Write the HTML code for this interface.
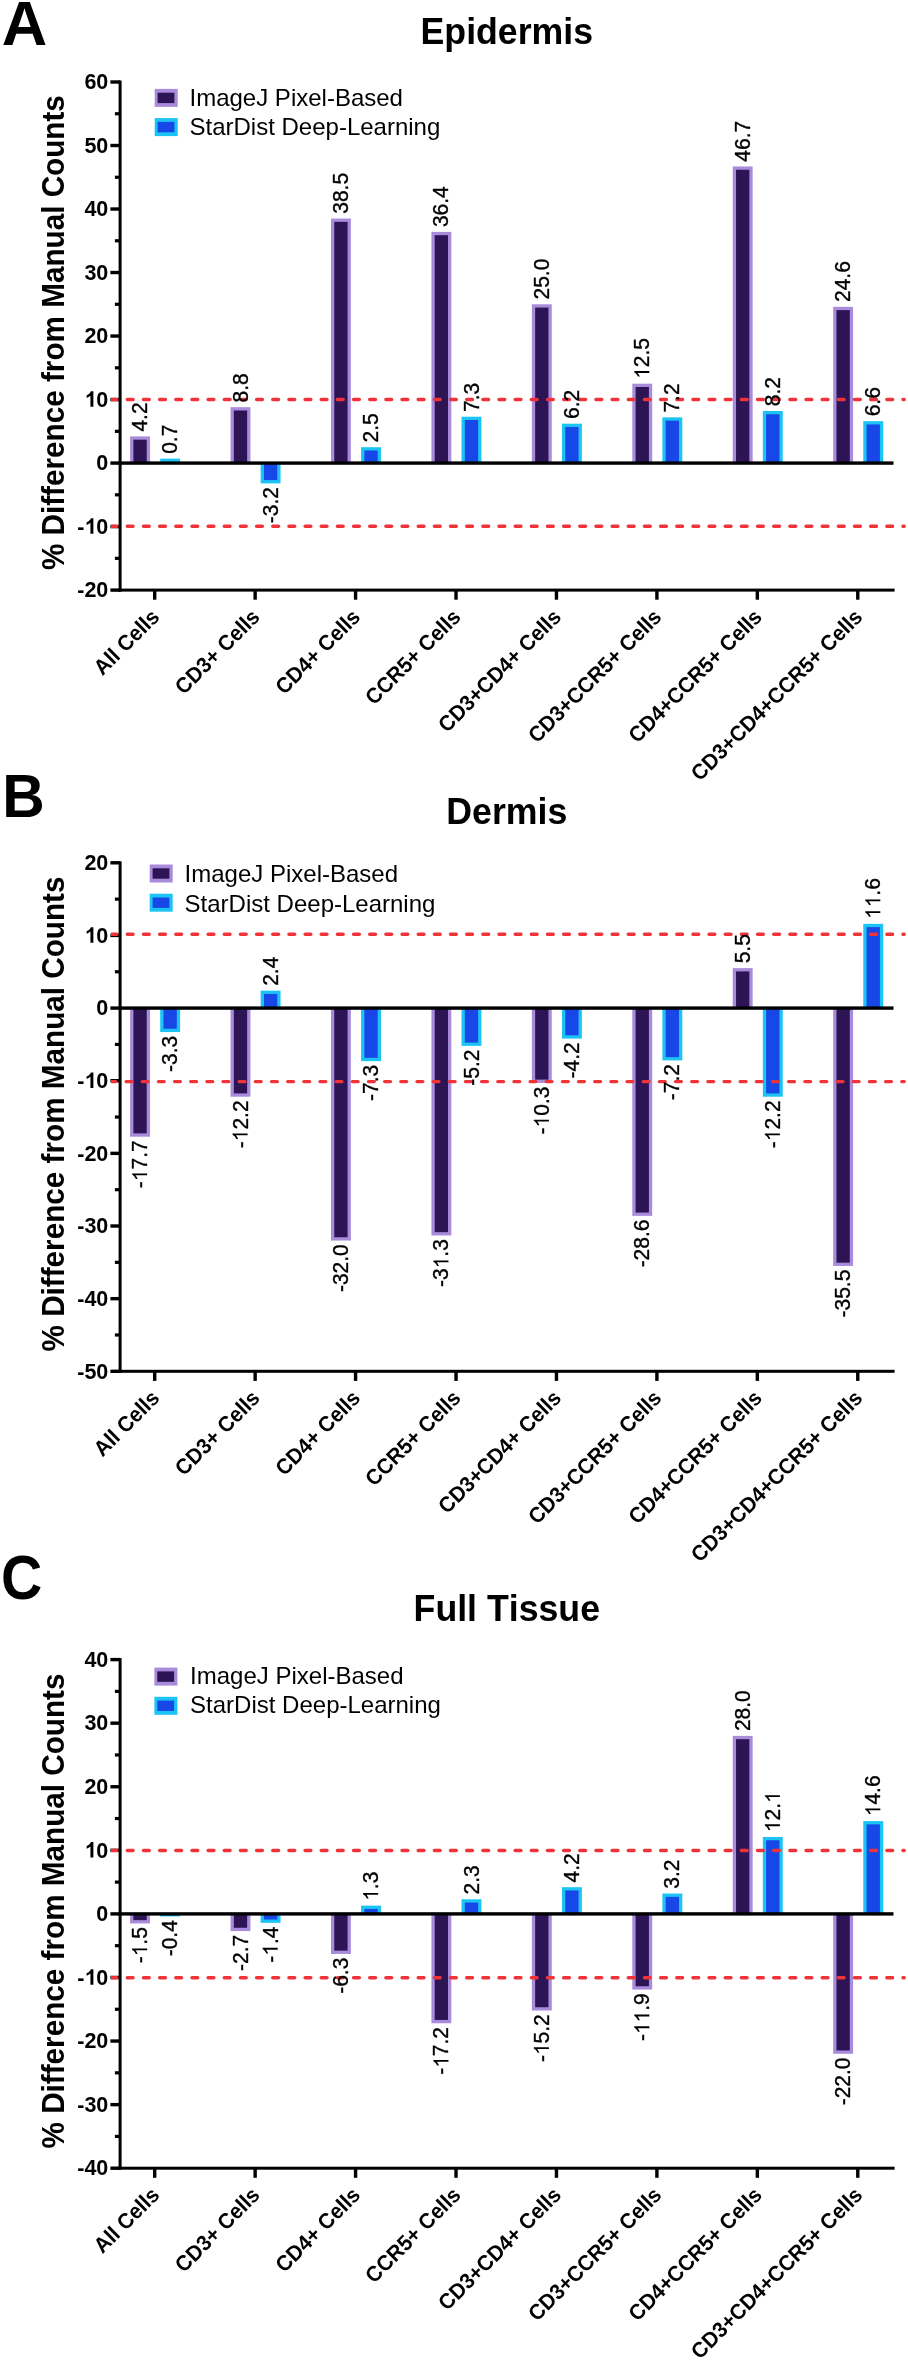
<!DOCTYPE html>
<html><head><meta charset="utf-8"><title>Figure</title>
<style>
html,body{margin:0;padding:0;background:#fff;overflow:hidden;}
svg{display:block;font-family:"Liberation Sans", sans-serif;font-kerning:none;filter:blur(0.4px);}
.v{stroke:#000;stroke-width:0.35px;}
.h{fill:none;stroke:none;}
</style></head>
<body>
<svg width="908" height="2362" viewBox="0 0 908 2362" fill="#000">
<defs><clipPath id="dclip"><rect x="111" y="0" width="797" height="2362"/></clipPath></defs>
<rect width="908" height="2362" fill="#fff"/>
<text x="0" y="0" font-size="62.0" font-weight="bold" transform="translate(1.8 44.55) scale(1.015 1.01)">A</text>
<text transform="translate(506.8 44.3) scale(1 1.04)" font-size="35.7" font-weight="bold" text-anchor="middle">Epidermis</text>
<text transform="translate(64 332.6) rotate(-90) scale(1 1.04)" font-size="29.7" font-weight="bold" text-anchor="middle">% Difference from Manual Counts</text>
<rect x="130.1" y="436.4" width="19.9" height="26.68" fill="#a98bdb"/>
<rect x="133.4" y="439.7" width="13.3" height="23.38" fill="#2c1455"/>
<rect x="160.2" y="458.63" width="19.9" height="4.45" fill="#1cc3f5"/>
<rect x="163.5" y="461.93" width="13.3" height="1.15" fill="#1747e6"/>
<rect x="230.54" y="407.18" width="19.9" height="55.89" fill="#a98bdb"/>
<rect x="233.84" y="410.48" width="13.3" height="52.59" fill="#2c1455"/>
<rect x="260.64" y="463.08" width="19.9" height="20.32" fill="#1cc3f5"/>
<rect x="263.94" y="463.08" width="13.3" height="17.02" fill="#1747e6"/>
<rect x="330.98" y="218.55" width="19.9" height="244.52" fill="#a98bdb"/>
<rect x="334.28" y="221.85" width="13.3" height="241.22" fill="#2c1455"/>
<rect x="361.08" y="447.2" width="19.9" height="15.88" fill="#1cc3f5"/>
<rect x="364.38" y="450.5" width="13.3" height="12.58" fill="#1747e6"/>
<rect x="431.42" y="231.89" width="19.9" height="231.19" fill="#a98bdb"/>
<rect x="434.72" y="235.19" width="13.3" height="227.89" fill="#2c1455"/>
<rect x="461.52" y="416.71" width="19.9" height="46.36" fill="#1cc3f5"/>
<rect x="464.82" y="420.01" width="13.3" height="43.06" fill="#1747e6"/>
<rect x="531.86" y="304.29" width="19.9" height="158.78" fill="#a98bdb"/>
<rect x="535.16" y="307.59" width="13.3" height="155.48" fill="#2c1455"/>
<rect x="561.96" y="423.7" width="19.9" height="39.38" fill="#1cc3f5"/>
<rect x="565.26" y="427" width="13.3" height="36.08" fill="#1747e6"/>
<rect x="632.3" y="383.68" width="19.9" height="79.39" fill="#a98bdb"/>
<rect x="635.6" y="386.98" width="13.3" height="76.09" fill="#2c1455"/>
<rect x="662.4" y="417.35" width="19.9" height="45.73" fill="#1cc3f5"/>
<rect x="665.7" y="420.65" width="13.3" height="42.43" fill="#1747e6"/>
<rect x="732.74" y="166.47" width="19.9" height="296.6" fill="#a98bdb"/>
<rect x="736.04" y="169.77" width="13.3" height="293.3" fill="#2c1455"/>
<rect x="762.84" y="410.99" width="19.9" height="52.08" fill="#1cc3f5"/>
<rect x="766.14" y="414.29" width="13.3" height="48.78" fill="#1747e6"/>
<rect x="833.18" y="306.83" width="19.9" height="156.24" fill="#a98bdb"/>
<rect x="836.48" y="310.13" width="13.3" height="152.94" fill="#2c1455"/>
<rect x="863.28" y="421.16" width="19.9" height="41.92" fill="#1cc3f5"/>
<rect x="866.58" y="424.46" width="13.3" height="38.62" fill="#1747e6"/>
<rect x="110.4" y="80.3" width="9.7" height="3.4" fill="#000"/>
<text transform="translate(108.3 89.2) scale(1 1.04)" font-size="21.5" font-weight="bold" text-anchor="end">60</text>
<rect x="114.9" y="112.16" width="5.2" height="3.2" fill="#000"/>
<rect x="110.4" y="143.81" width="9.7" height="3.4" fill="#000"/>
<text transform="translate(108.3 152.71) scale(1 1.04)" font-size="21.5" font-weight="bold" text-anchor="end">50</text>
<rect x="114.9" y="175.67" width="5.2" height="3.2" fill="#000"/>
<rect x="110.4" y="207.33" width="9.7" height="3.4" fill="#000"/>
<text transform="translate(108.3 216.22) scale(1 1.04)" font-size="21.5" font-weight="bold" text-anchor="end">40</text>
<rect x="114.9" y="239.18" width="5.2" height="3.2" fill="#000"/>
<rect x="110.4" y="270.84" width="9.7" height="3.4" fill="#000"/>
<text transform="translate(108.3 279.74) scale(1 1.04)" font-size="21.5" font-weight="bold" text-anchor="end">30</text>
<rect x="114.9" y="302.69" width="5.2" height="3.2" fill="#000"/>
<rect x="110.4" y="334.35" width="9.7" height="3.4" fill="#000"/>
<text transform="translate(108.3 343.25) scale(1 1.04)" font-size="21.5" font-weight="bold" text-anchor="end">20</text>
<rect x="114.9" y="366.21" width="5.2" height="3.2" fill="#000"/>
<rect x="110.4" y="397.86" width="9.7" height="3.4" fill="#000"/>
<g transform="translate(108.3 406.76)"><text transform="scale(1 1.04)" font-size="21.5" font-weight="bold" text-anchor="end"><tspan class="h">1</tspan>0</text><path d="M856 0L575 0L575 1059Q421 915 212 846L212 1101Q322 1137 451 1237Q580 1337 628 1472L856 1472Z" transform="translate(-23.91 0) scale(0.01050 -0.01050)"/></g>
<rect x="114.9" y="429.72" width="5.2" height="3.2" fill="#000"/>
<rect x="110.4" y="461.38" width="9.7" height="3.4" fill="#000"/>
<text transform="translate(108.3 470.28) scale(1 1.04)" font-size="21.5" font-weight="bold" text-anchor="end">0</text>
<rect x="114.9" y="493.23" width="5.2" height="3.2" fill="#000"/>
<rect x="110.4" y="524.89" width="9.7" height="3.4" fill="#000"/>
<g transform="translate(108.3 533.79)"><text transform="scale(1 1.04)" font-size="21.5" font-weight="bold" text-anchor="end">-<tspan class="h">1</tspan>0</text><path d="M856 0L575 0L575 1059Q421 915 212 846L212 1101Q322 1137 451 1237Q580 1337 628 1472L856 1472Z" transform="translate(-23.91 0) scale(0.01050 -0.01050)"/></g>
<rect x="114.9" y="556.74" width="5.2" height="3.2" fill="#000"/>
<rect x="110.4" y="588.4" width="9.7" height="3.4" fill="#000"/>
<text transform="translate(108.3 597.3) scale(1 1.04)" font-size="21.5" font-weight="bold" text-anchor="end">-20</text>
<line x1="111.14" y1="399.5" x2="904.2" y2="399.5" stroke="#f03338" stroke-width="3.4" stroke-dasharray="5.8 10.36" stroke-linecap="round" clip-path="url(#dclip)"/>
<line x1="111.14" y1="526.3" x2="904.2" y2="526.3" stroke="#f03338" stroke-width="3.4" stroke-dasharray="5.8 10.36" stroke-linecap="round" clip-path="url(#dclip)"/>
<rect x="118.6" y="461.38" width="774.9" height="3.4" fill="#000"/>
<rect x="118.6" y="80.5" width="3" height="511.1" fill="#000"/>
<rect x="118.6" y="588.6" width="776" height="3" fill="#000"/>
<rect x="153" y="590.1" width="3.4" height="9.6" fill="#000"/>
<text transform="translate(160.6 618.2) rotate(-45) scale(1 1.04)" font-size="20.8" font-weight="bold" text-anchor="end">All Cells</text>
<rect x="253.44" y="590.1" width="3.4" height="9.6" fill="#000"/>
<text transform="translate(261.04 618.2) rotate(-45) scale(1 1.04)" font-size="20.8" font-weight="bold" text-anchor="end">CD3+ Cells</text>
<rect x="353.88" y="590.1" width="3.4" height="9.6" fill="#000"/>
<text transform="translate(361.48 618.2) rotate(-45) scale(1 1.04)" font-size="20.8" font-weight="bold" text-anchor="end">CD4+ Cells</text>
<rect x="454.32" y="590.1" width="3.4" height="9.6" fill="#000"/>
<text transform="translate(461.92 618.2) rotate(-45) scale(1 1.04)" font-size="20.8" font-weight="bold" text-anchor="end">CCR5+ Cells</text>
<rect x="554.76" y="590.1" width="3.4" height="9.6" fill="#000"/>
<text transform="translate(562.36 618.2) rotate(-45) scale(1 1.04)" font-size="20.8" font-weight="bold" text-anchor="end">CD3+CD4+ Cells</text>
<rect x="655.2" y="590.1" width="3.4" height="9.6" fill="#000"/>
<text transform="translate(662.8 618.2) rotate(-45) scale(1 1.04)" font-size="20.8" font-weight="bold" text-anchor="end">CD3+CCR5+ Cells</text>
<rect x="755.64" y="590.1" width="3.4" height="9.6" fill="#000"/>
<text transform="translate(763.24 618.2) rotate(-45) scale(1 1.04)" font-size="20.8" font-weight="bold" text-anchor="end">CD4+CCR5+ Cells</text>
<rect x="856.08" y="590.1" width="3.4" height="9.6" fill="#000"/>
<text transform="translate(863.68 618.2) rotate(-45) scale(1 1.04)" font-size="20.8" font-weight="bold" text-anchor="end">CD3+CD4+CCR5+ Cells</text>
<text transform="translate(147.15 431.6) rotate(-90) scale(1 1.04)" font-size="21.0" class="v">4.2</text>
<text transform="translate(177.25 453.83) rotate(-90) scale(1 1.04)" font-size="21.0" class="v">0.7</text>
<text transform="translate(247.59 402.38) rotate(-90) scale(1 1.04)" font-size="21.0" class="v">8.8</text>
<text transform="translate(277.69 487.1) rotate(-90) scale(1 1.04)" font-size="21.0" class="v" text-anchor="end">-3.2</text>
<text transform="translate(348.03 213.75) rotate(-90) scale(1 1.04)" font-size="21.0" class="v">38.5</text>
<text transform="translate(378.13 442.4) rotate(-90) scale(1 1.04)" font-size="21.0" class="v">2.5</text>
<text transform="translate(448.47 227.09) rotate(-90) scale(1 1.04)" font-size="21.0" class="v">36.4</text>
<text transform="translate(478.57 411.91) rotate(-90) scale(1 1.04)" font-size="21.0" class="v">7.3</text>
<text transform="translate(548.91 299.49) rotate(-90) scale(1 1.04)" font-size="21.0" class="v">25.0</text>
<text transform="translate(579.01 418.9) rotate(-90) scale(1 1.04)" font-size="21.0" class="v">6.2</text>
<g transform="translate(649.35 378.88) rotate(-90)"><text transform="scale(1 1.04)" font-size="21.0" class="v"><tspan class="h">1</tspan>2.5</text><path d="M763 0L583 0L583 1147Q518 1085 412 1023Q306 961 222 930L222 1104Q373 1175 486 1276Q599 1377 646 1472L763 1472Z" transform="translate(0.00 0) scale(0.01025 -0.01025)" class="v"/></g>
<text transform="translate(679.45 412.55) rotate(-90) scale(1 1.04)" font-size="21.0" class="v">7.2</text>
<text transform="translate(749.79 161.67) rotate(-90) scale(1 1.04)" font-size="21.0" class="v">46.7</text>
<text transform="translate(779.89 406.19) rotate(-90) scale(1 1.04)" font-size="21.0" class="v">8.2</text>
<text transform="translate(850.23 302.03) rotate(-90) scale(1 1.04)" font-size="21.0" class="v">24.6</text>
<text transform="translate(880.33 416.36) rotate(-90) scale(1 1.04)" font-size="21.0" class="v">6.6</text>
<rect x="154.7" y="88.9" width="23.0" height="18.0" fill="#a98bdb"/>
<rect x="157.6" y="92.7" width="16.8" height="10.4" fill="#2c1455"/>
<text transform="translate(189.5 106.2)" font-size="24.0">ImageJ Pixel-Based</text>
<rect x="154.7" y="118.1" width="23.0" height="18.0" fill="#1cc3f5"/>
<rect x="157.6" y="121.9" width="16.8" height="10.4" fill="#1747e6"/>
<text transform="translate(189.5 135.4)" font-size="24.0">StarDist Deep-Learning</text>
<text x="0" y="0" font-size="62.0" font-weight="bold" transform="translate(2.3 816.6) scale(0.95 1.0)">B</text>
<text transform="translate(506.8 824) scale(1 1.04)" font-size="35.7" font-weight="bold" text-anchor="middle">Dermis</text>
<text transform="translate(64 1114) rotate(-90) scale(1 1.04)" font-size="29.7" font-weight="bold" text-anchor="middle">% Difference from Manual Counts</text>
<rect x="130.1" y="1008.09" width="19.9" height="128.58" fill="#a98bdb"/>
<rect x="133.4" y="1008.09" width="13.3" height="125.28" fill="#2c1455"/>
<rect x="160.2" y="1008.09" width="19.9" height="23.97" fill="#1cc3f5"/>
<rect x="163.5" y="1008.09" width="13.3" height="20.67" fill="#1747e6"/>
<rect x="230.54" y="1008.09" width="19.9" height="88.62" fill="#a98bdb"/>
<rect x="233.84" y="1008.09" width="13.3" height="85.32" fill="#2c1455"/>
<rect x="260.64" y="990.65" width="19.9" height="17.43" fill="#1cc3f5"/>
<rect x="263.94" y="993.95" width="13.3" height="14.13" fill="#1747e6"/>
<rect x="330.98" y="1008.09" width="19.9" height="232.46" fill="#a98bdb"/>
<rect x="334.28" y="1008.09" width="13.3" height="229.16" fill="#2c1455"/>
<rect x="361.08" y="1008.09" width="19.9" height="53.03" fill="#1cc3f5"/>
<rect x="364.38" y="1008.09" width="13.3" height="49.73" fill="#1747e6"/>
<rect x="431.42" y="1008.09" width="19.9" height="227.37" fill="#a98bdb"/>
<rect x="434.72" y="1008.09" width="13.3" height="224.07" fill="#2c1455"/>
<rect x="461.52" y="1008.09" width="19.9" height="37.77" fill="#1cc3f5"/>
<rect x="464.82" y="1008.09" width="13.3" height="34.47" fill="#1747e6"/>
<rect x="531.86" y="1008.09" width="19.9" height="74.82" fill="#a98bdb"/>
<rect x="535.16" y="1008.09" width="13.3" height="71.52" fill="#2c1455"/>
<rect x="561.96" y="1008.09" width="19.9" height="30.51" fill="#1cc3f5"/>
<rect x="565.26" y="1008.09" width="13.3" height="27.21" fill="#1747e6"/>
<rect x="632.3" y="1008.09" width="19.9" height="207.76" fill="#a98bdb"/>
<rect x="635.6" y="1008.09" width="13.3" height="204.46" fill="#2c1455"/>
<rect x="662.4" y="1008.09" width="19.9" height="52.3" fill="#1cc3f5"/>
<rect x="665.7" y="1008.09" width="13.3" height="49" fill="#1747e6"/>
<rect x="732.74" y="968.13" width="19.9" height="39.95" fill="#a98bdb"/>
<rect x="736.04" y="971.43" width="13.3" height="36.65" fill="#2c1455"/>
<rect x="762.84" y="1008.09" width="19.9" height="88.62" fill="#1cc3f5"/>
<rect x="766.14" y="1008.09" width="13.3" height="85.32" fill="#1747e6"/>
<rect x="833.18" y="1008.09" width="19.9" height="257.88" fill="#a98bdb"/>
<rect x="836.48" y="1008.09" width="13.3" height="254.58" fill="#2c1455"/>
<rect x="863.28" y="923.82" width="19.9" height="84.27" fill="#1cc3f5"/>
<rect x="866.58" y="927.12" width="13.3" height="80.97" fill="#1747e6"/>
<rect x="110.4" y="861.1" width="9.7" height="3.4" fill="#000"/>
<text transform="translate(108.3 870) scale(1 1.04)" font-size="21.5" font-weight="bold" text-anchor="end">20</text>
<rect x="114.9" y="897.52" width="5.2" height="3.2" fill="#000"/>
<rect x="110.4" y="933.74" width="9.7" height="3.4" fill="#000"/>
<g transform="translate(108.3 942.64)"><text transform="scale(1 1.04)" font-size="21.5" font-weight="bold" text-anchor="end"><tspan class="h">1</tspan>0</text><path d="M856 0L575 0L575 1059Q421 915 212 846L212 1101Q322 1137 451 1237Q580 1337 628 1472L856 1472Z" transform="translate(-23.91 0) scale(0.01050 -0.01050)"/></g>
<rect x="114.9" y="970.16" width="5.2" height="3.2" fill="#000"/>
<rect x="110.4" y="1006.39" width="9.7" height="3.4" fill="#000"/>
<text transform="translate(108.3 1015.29) scale(1 1.04)" font-size="21.5" font-weight="bold" text-anchor="end">0</text>
<rect x="114.9" y="1042.81" width="5.2" height="3.2" fill="#000"/>
<rect x="110.4" y="1079.03" width="9.7" height="3.4" fill="#000"/>
<g transform="translate(108.3 1087.93)"><text transform="scale(1 1.04)" font-size="21.5" font-weight="bold" text-anchor="end">-<tspan class="h">1</tspan>0</text><path d="M856 0L575 0L575 1059Q421 915 212 846L212 1101Q322 1137 451 1237Q580 1337 628 1472L856 1472Z" transform="translate(-23.91 0) scale(0.01050 -0.01050)"/></g>
<rect x="114.9" y="1115.45" width="5.2" height="3.2" fill="#000"/>
<rect x="110.4" y="1151.67" width="9.7" height="3.4" fill="#000"/>
<text transform="translate(108.3 1160.57) scale(1 1.04)" font-size="21.5" font-weight="bold" text-anchor="end">-20</text>
<rect x="114.9" y="1188.09" width="5.2" height="3.2" fill="#000"/>
<rect x="110.4" y="1224.31" width="9.7" height="3.4" fill="#000"/>
<text transform="translate(108.3 1233.21) scale(1 1.04)" font-size="21.5" font-weight="bold" text-anchor="end">-30</text>
<rect x="114.9" y="1260.74" width="5.2" height="3.2" fill="#000"/>
<rect x="110.4" y="1296.96" width="9.7" height="3.4" fill="#000"/>
<text transform="translate(108.3 1305.86) scale(1 1.04)" font-size="21.5" font-weight="bold" text-anchor="end">-40</text>
<rect x="114.9" y="1333.38" width="5.2" height="3.2" fill="#000"/>
<rect x="110.4" y="1369.6" width="9.7" height="3.4" fill="#000"/>
<text transform="translate(108.3 1378.5) scale(1 1.04)" font-size="21.5" font-weight="bold" text-anchor="end">-50</text>
<line x1="111.14" y1="934.3" x2="904.2" y2="934.3" stroke="#f03338" stroke-width="3.4" stroke-dasharray="5.8 10.36" stroke-linecap="round" clip-path="url(#dclip)"/>
<line x1="109.94" y1="1081.6" x2="904.2" y2="1081.6" stroke="#f03338" stroke-width="3.4" stroke-dasharray="5.8 10.36" stroke-linecap="round" clip-path="url(#dclip)"/>
<rect x="118.6" y="1006.39" width="774.9" height="3.4" fill="#000"/>
<rect x="118.6" y="861.3" width="3" height="511.5" fill="#000"/>
<rect x="118.6" y="1369.8" width="776" height="3" fill="#000"/>
<rect x="153" y="1371.3" width="3.4" height="9.6" fill="#000"/>
<text transform="translate(160.6 1399.4) rotate(-45) scale(1 1.04)" font-size="20.8" font-weight="bold" text-anchor="end">All Cells</text>
<rect x="253.44" y="1371.3" width="3.4" height="9.6" fill="#000"/>
<text transform="translate(261.04 1399.4) rotate(-45) scale(1 1.04)" font-size="20.8" font-weight="bold" text-anchor="end">CD3+ Cells</text>
<rect x="353.88" y="1371.3" width="3.4" height="9.6" fill="#000"/>
<text transform="translate(361.48 1399.4) rotate(-45) scale(1 1.04)" font-size="20.8" font-weight="bold" text-anchor="end">CD4+ Cells</text>
<rect x="454.32" y="1371.3" width="3.4" height="9.6" fill="#000"/>
<text transform="translate(461.92 1399.4) rotate(-45) scale(1 1.04)" font-size="20.8" font-weight="bold" text-anchor="end">CCR5+ Cells</text>
<rect x="554.76" y="1371.3" width="3.4" height="9.6" fill="#000"/>
<text transform="translate(562.36 1399.4) rotate(-45) scale(1 1.04)" font-size="20.8" font-weight="bold" text-anchor="end">CD3+CD4+ Cells</text>
<rect x="655.2" y="1371.3" width="3.4" height="9.6" fill="#000"/>
<text transform="translate(662.8 1399.4) rotate(-45) scale(1 1.04)" font-size="20.8" font-weight="bold" text-anchor="end">CD3+CCR5+ Cells</text>
<rect x="755.64" y="1371.3" width="3.4" height="9.6" fill="#000"/>
<text transform="translate(763.24 1399.4) rotate(-45) scale(1 1.04)" font-size="20.8" font-weight="bold" text-anchor="end">CD4+CCR5+ Cells</text>
<rect x="856.08" y="1371.3" width="3.4" height="9.6" fill="#000"/>
<text transform="translate(863.68 1399.4) rotate(-45) scale(1 1.04)" font-size="20.8" font-weight="bold" text-anchor="end">CD3+CD4+CCR5+ Cells</text>
<g transform="translate(147.15 1140.36) rotate(-90)"><text transform="scale(1 1.04)" font-size="21.0" class="v" text-anchor="end">-<tspan class="h">1</tspan>7.7</text><path d="M763 0L583 0L583 1147Q518 1085 412 1023Q306 961 222 930L222 1104Q373 1175 486 1276Q599 1377 646 1472L763 1472Z" transform="translate(-40.87 0) scale(0.01025 -0.01025)" class="v"/></g>
<text transform="translate(177.25 1035.76) rotate(-90) scale(1 1.04)" font-size="21.0" class="v" text-anchor="end">-3.3</text>
<g transform="translate(247.59 1100.41) rotate(-90)"><text transform="scale(1 1.04)" font-size="21.0" class="v" text-anchor="end">-<tspan class="h">1</tspan>2.2</text><path d="M763 0L583 0L583 1147Q518 1085 412 1023Q306 961 222 930L222 1104Q373 1175 486 1276Q599 1377 646 1472L763 1472Z" transform="translate(-40.87 0) scale(0.01025 -0.01025)" class="v"/></g>
<text transform="translate(277.69 985.85) rotate(-90) scale(1 1.04)" font-size="21.0" class="v">2.4</text>
<text transform="translate(348.03 1244.24) rotate(-90) scale(1 1.04)" font-size="21.0" class="v" text-anchor="end">-32.0</text>
<text transform="translate(378.13 1064.82) rotate(-90) scale(1 1.04)" font-size="21.0" class="v" text-anchor="end">-7.3</text>
<g transform="translate(448.47 1239.16) rotate(-90)"><text transform="scale(1 1.04)" font-size="21.0" class="v" text-anchor="end">-3<tspan class="h">1</tspan>.3</text><path d="M763 0L583 0L583 1147Q518 1085 412 1023Q306 961 222 930L222 1104Q373 1175 486 1276Q599 1377 646 1472L763 1472Z" transform="translate(-29.19 0) scale(0.01025 -0.01025)" class="v"/></g>
<text transform="translate(478.57 1049.56) rotate(-90) scale(1 1.04)" font-size="21.0" class="v" text-anchor="end">-5.2</text>
<g transform="translate(548.91 1086.61) rotate(-90)"><text transform="scale(1 1.04)" font-size="21.0" class="v" text-anchor="end">-<tspan class="h">1</tspan>0.3</text><path d="M763 0L583 0L583 1147Q518 1085 412 1023Q306 961 222 930L222 1104Q373 1175 486 1276Q599 1377 646 1472L763 1472Z" transform="translate(-40.87 0) scale(0.01025 -0.01025)" class="v"/></g>
<text transform="translate(579.01 1042.3) rotate(-90) scale(1 1.04)" font-size="21.0" class="v" text-anchor="end">-4.2</text>
<text transform="translate(649.35 1219.54) rotate(-90) scale(1 1.04)" font-size="21.0" class="v" text-anchor="end">-28.6</text>
<text transform="translate(679.45 1064.09) rotate(-90) scale(1 1.04)" font-size="21.0" class="v" text-anchor="end">-7.2</text>
<text transform="translate(749.79 963.33) rotate(-90) scale(1 1.04)" font-size="21.0" class="v">5.5</text>
<g transform="translate(779.89 1100.41) rotate(-90)"><text transform="scale(1 1.04)" font-size="21.0" class="v" text-anchor="end">-<tspan class="h">1</tspan>2.2</text><path d="M763 0L583 0L583 1147Q518 1085 412 1023Q306 961 222 930L222 1104Q373 1175 486 1276Q599 1377 646 1472L763 1472Z" transform="translate(-40.87 0) scale(0.01025 -0.01025)" class="v"/></g>
<text transform="translate(850.23 1269.67) rotate(-90) scale(1 1.04)" font-size="21.0" class="v" text-anchor="end">-35.5</text>
<g transform="translate(880.33 919.02) rotate(-90)"><text transform="scale(1 1.04)" font-size="21.0" class="v"><tspan class="h">1</tspan><tspan class="h">1</tspan>.6</text><path d="M763 0L583 0L583 1147Q518 1085 412 1023Q306 961 222 930L222 1104Q373 1175 486 1276Q599 1377 646 1472L763 1472Z" transform="translate(0.00 0) scale(0.01025 -0.01025)" class="v"/><path d="M763 0L583 0L583 1147Q518 1085 412 1023Q306 961 222 930L222 1104Q373 1175 486 1276Q599 1377 646 1472L763 1472Z" transform="translate(11.68 0) scale(0.01025 -0.01025)" class="v"/></g>
<rect x="149.7" y="864.5" width="23.0" height="18.0" fill="#a98bdb"/>
<rect x="152.6" y="868.3" width="16.8" height="10.4" fill="#2c1455"/>
<text transform="translate(184.6 882.3)" font-size="24.0">ImageJ Pixel-Based</text>
<rect x="149.7" y="893.7" width="23.0" height="18.0" fill="#1cc3f5"/>
<rect x="152.6" y="897.5" width="16.8" height="10.4" fill="#1747e6"/>
<text transform="translate(184.6 911.5)" font-size="24.0">StarDist Deep-Learning</text>
<text x="0" y="0" font-size="62.0" font-weight="bold" transform="translate(1.0 1598.9) scale(0.92 1.015)">C</text>
<text transform="translate(506.8 1621) scale(1 1.04)" font-size="35.7" font-weight="bold" text-anchor="middle">Full Tissue</text>
<text transform="translate(64 1911) rotate(-90) scale(1 1.04)" font-size="29.7" font-weight="bold" text-anchor="middle">% Difference from Manual Counts</text>
<rect x="130.1" y="1913.9" width="19.9" height="9.54" fill="#a98bdb"/>
<rect x="133.4" y="1913.9" width="13.3" height="6.24" fill="#2c1455"/>
<rect x="160.2" y="1913.9" width="19.9" height="2.54" fill="#1cc3f5"/>
<rect x="230.54" y="1913.9" width="19.9" height="17.17" fill="#a98bdb"/>
<rect x="233.84" y="1913.9" width="13.3" height="13.87" fill="#2c1455"/>
<rect x="260.64" y="1913.9" width="19.9" height="8.9" fill="#1cc3f5"/>
<rect x="263.94" y="1913.9" width="13.3" height="5.6" fill="#1747e6"/>
<rect x="330.98" y="1913.9" width="19.9" height="40.05" fill="#a98bdb"/>
<rect x="334.28" y="1913.9" width="13.3" height="36.75" fill="#2c1455"/>
<rect x="361.08" y="1905.64" width="19.9" height="8.26" fill="#1cc3f5"/>
<rect x="364.38" y="1908.94" width="13.3" height="4.96" fill="#1747e6"/>
<rect x="431.42" y="1913.9" width="19.9" height="109.35" fill="#a98bdb"/>
<rect x="434.72" y="1913.9" width="13.3" height="106.05" fill="#2c1455"/>
<rect x="461.52" y="1899.28" width="19.9" height="14.62" fill="#1cc3f5"/>
<rect x="464.82" y="1902.58" width="13.3" height="11.32" fill="#1747e6"/>
<rect x="531.86" y="1913.9" width="19.9" height="96.63" fill="#a98bdb"/>
<rect x="535.16" y="1913.9" width="13.3" height="93.33" fill="#2c1455"/>
<rect x="561.96" y="1887.2" width="19.9" height="26.7" fill="#1cc3f5"/>
<rect x="565.26" y="1890.5" width="13.3" height="23.4" fill="#1747e6"/>
<rect x="632.3" y="1913.9" width="19.9" height="75.65" fill="#a98bdb"/>
<rect x="635.6" y="1913.9" width="13.3" height="72.35" fill="#2c1455"/>
<rect x="662.4" y="1893.56" width="19.9" height="20.34" fill="#1cc3f5"/>
<rect x="665.7" y="1896.86" width="13.3" height="17.04" fill="#1747e6"/>
<rect x="732.74" y="1735.89" width="19.9" height="178.01" fill="#a98bdb"/>
<rect x="736.04" y="1739.19" width="13.3" height="174.71" fill="#2c1455"/>
<rect x="762.84" y="1836.97" width="19.9" height="76.93" fill="#1cc3f5"/>
<rect x="766.14" y="1840.27" width="13.3" height="73.63" fill="#1747e6"/>
<rect x="833.18" y="1913.9" width="19.9" height="139.87" fill="#a98bdb"/>
<rect x="836.48" y="1913.9" width="13.3" height="136.56" fill="#2c1455"/>
<rect x="863.28" y="1821.08" width="19.9" height="92.82" fill="#1cc3f5"/>
<rect x="866.58" y="1824.38" width="13.3" height="89.52" fill="#1747e6"/>
<rect x="110.4" y="1657.9" width="9.7" height="3.4" fill="#000"/>
<text transform="translate(108.3 1666.8) scale(1 1.04)" font-size="21.5" font-weight="bold" text-anchor="end">40</text>
<rect x="114.9" y="1689.79" width="5.2" height="3.2" fill="#000"/>
<rect x="110.4" y="1721.47" width="9.7" height="3.4" fill="#000"/>
<text transform="translate(108.3 1730.38) scale(1 1.04)" font-size="21.5" font-weight="bold" text-anchor="end">30</text>
<rect x="114.9" y="1753.36" width="5.2" height="3.2" fill="#000"/>
<rect x="110.4" y="1785.05" width="9.7" height="3.4" fill="#000"/>
<text transform="translate(108.3 1793.95) scale(1 1.04)" font-size="21.5" font-weight="bold" text-anchor="end">20</text>
<rect x="114.9" y="1816.94" width="5.2" height="3.2" fill="#000"/>
<rect x="110.4" y="1848.62" width="9.7" height="3.4" fill="#000"/>
<g transform="translate(108.3 1857.52)"><text transform="scale(1 1.04)" font-size="21.5" font-weight="bold" text-anchor="end"><tspan class="h">1</tspan>0</text><path d="M856 0L575 0L575 1059Q421 915 212 846L212 1101Q322 1137 451 1237Q580 1337 628 1472L856 1472Z" transform="translate(-23.91 0) scale(0.01050 -0.01050)"/></g>
<rect x="114.9" y="1880.51" width="5.2" height="3.2" fill="#000"/>
<rect x="110.4" y="1912.2" width="9.7" height="3.4" fill="#000"/>
<text transform="translate(108.3 1921.1) scale(1 1.04)" font-size="21.5" font-weight="bold" text-anchor="end">0</text>
<rect x="114.9" y="1944.09" width="5.2" height="3.2" fill="#000"/>
<rect x="110.4" y="1975.77" width="9.7" height="3.4" fill="#000"/>
<g transform="translate(108.3 1984.67)"><text transform="scale(1 1.04)" font-size="21.5" font-weight="bold" text-anchor="end">-<tspan class="h">1</tspan>0</text><path d="M856 0L575 0L575 1059Q421 915 212 846L212 1101Q322 1137 451 1237Q580 1337 628 1472L856 1472Z" transform="translate(-23.91 0) scale(0.01050 -0.01050)"/></g>
<rect x="114.9" y="2007.66" width="5.2" height="3.2" fill="#000"/>
<rect x="110.4" y="2039.35" width="9.7" height="3.4" fill="#000"/>
<text transform="translate(108.3 2048.25) scale(1 1.04)" font-size="21.5" font-weight="bold" text-anchor="end">-20</text>
<rect x="114.9" y="2071.24" width="5.2" height="3.2" fill="#000"/>
<rect x="110.4" y="2102.93" width="9.7" height="3.4" fill="#000"/>
<text transform="translate(108.3 2111.82) scale(1 1.04)" font-size="21.5" font-weight="bold" text-anchor="end">-30</text>
<rect x="114.9" y="2134.81" width="5.2" height="3.2" fill="#000"/>
<rect x="110.4" y="2166.5" width="9.7" height="3.4" fill="#000"/>
<text transform="translate(108.3 2175.4) scale(1 1.04)" font-size="21.5" font-weight="bold" text-anchor="end">-40</text>
<line x1="111.14" y1="1850.5" x2="904.2" y2="1850.5" stroke="#f03338" stroke-width="3.4" stroke-dasharray="5.8 10.36" stroke-linecap="round" clip-path="url(#dclip)"/>
<line x1="111.14" y1="1977.7" x2="904.2" y2="1977.7" stroke="#f03338" stroke-width="3.4" stroke-dasharray="5.8 10.36" stroke-linecap="round" clip-path="url(#dclip)"/>
<rect x="118.6" y="1912.2" width="774.9" height="3.4" fill="#000"/>
<rect x="118.6" y="1658.1" width="3" height="511.6" fill="#000"/>
<rect x="118.6" y="2166.7" width="776" height="3" fill="#000"/>
<rect x="153" y="2168.2" width="3.4" height="9.6" fill="#000"/>
<text transform="translate(160.6 2196.3) rotate(-45) scale(1 1.04)" font-size="20.8" font-weight="bold" text-anchor="end">All Cells</text>
<rect x="253.44" y="2168.2" width="3.4" height="9.6" fill="#000"/>
<text transform="translate(261.04 2196.3) rotate(-45) scale(1 1.04)" font-size="20.8" font-weight="bold" text-anchor="end">CD3+ Cells</text>
<rect x="353.88" y="2168.2" width="3.4" height="9.6" fill="#000"/>
<text transform="translate(361.48 2196.3) rotate(-45) scale(1 1.04)" font-size="20.8" font-weight="bold" text-anchor="end">CD4+ Cells</text>
<rect x="454.32" y="2168.2" width="3.4" height="9.6" fill="#000"/>
<text transform="translate(461.92 2196.3) rotate(-45) scale(1 1.04)" font-size="20.8" font-weight="bold" text-anchor="end">CCR5+ Cells</text>
<rect x="554.76" y="2168.2" width="3.4" height="9.6" fill="#000"/>
<text transform="translate(562.36 2196.3) rotate(-45) scale(1 1.04)" font-size="20.8" font-weight="bold" text-anchor="end">CD3+CD4+ Cells</text>
<rect x="655.2" y="2168.2" width="3.4" height="9.6" fill="#000"/>
<text transform="translate(662.8 2196.3) rotate(-45) scale(1 1.04)" font-size="20.8" font-weight="bold" text-anchor="end">CD3+CCR5+ Cells</text>
<rect x="755.64" y="2168.2" width="3.4" height="9.6" fill="#000"/>
<text transform="translate(763.24 2196.3) rotate(-45) scale(1 1.04)" font-size="20.8" font-weight="bold" text-anchor="end">CD4+CCR5+ Cells</text>
<rect x="856.08" y="2168.2" width="3.4" height="9.6" fill="#000"/>
<text transform="translate(863.68 2196.3) rotate(-45) scale(1 1.04)" font-size="20.8" font-weight="bold" text-anchor="end">CD3+CD4+CCR5+ Cells</text>
<g transform="translate(147.15 1927.14) rotate(-90)"><text transform="scale(1 1.04)" font-size="21.0" class="v" text-anchor="end">-<tspan class="h">1</tspan>.5</text><path d="M763 0L583 0L583 1147Q518 1085 412 1023Q306 961 222 930L222 1104Q373 1175 486 1276Q599 1377 646 1472L763 1472Z" transform="translate(-29.19 0) scale(0.01025 -0.01025)" class="v"/></g>
<text transform="translate(177.25 1920.14) rotate(-90) scale(1 1.04)" font-size="21.0" class="v" text-anchor="end">-0.4</text>
<text transform="translate(247.59 1934.77) rotate(-90) scale(1 1.04)" font-size="21.0" class="v" text-anchor="end">-2.7</text>
<g transform="translate(277.69 1926.5) rotate(-90)"><text transform="scale(1 1.04)" font-size="21.0" class="v" text-anchor="end">-<tspan class="h">1</tspan>.4</text><path d="M763 0L583 0L583 1147Q518 1085 412 1023Q306 961 222 930L222 1104Q373 1175 486 1276Q599 1377 646 1472L763 1472Z" transform="translate(-29.19 0) scale(0.01025 -0.01025)" class="v"/></g>
<text transform="translate(348.03 1957.65) rotate(-90) scale(1 1.04)" font-size="21.0" class="v" text-anchor="end">-6.3</text>
<g transform="translate(378.13 1900.84) rotate(-90)"><text transform="scale(1 1.04)" font-size="21.0" class="v"><tspan class="h">1</tspan>.3</text><path d="M763 0L583 0L583 1147Q518 1085 412 1023Q306 961 222 930L222 1104Q373 1175 486 1276Q599 1377 646 1472L763 1472Z" transform="translate(0.00 0) scale(0.01025 -0.01025)" class="v"/></g>
<g transform="translate(448.47 2026.95) rotate(-90)"><text transform="scale(1 1.04)" font-size="21.0" class="v" text-anchor="end">-<tspan class="h">1</tspan>7.2</text><path d="M763 0L583 0L583 1147Q518 1085 412 1023Q306 961 222 930L222 1104Q373 1175 486 1276Q599 1377 646 1472L763 1472Z" transform="translate(-40.87 0) scale(0.01025 -0.01025)" class="v"/></g>
<text transform="translate(478.57 1894.48) rotate(-90) scale(1 1.04)" font-size="21.0" class="v">2.3</text>
<g transform="translate(548.91 2014.23) rotate(-90)"><text transform="scale(1 1.04)" font-size="21.0" class="v" text-anchor="end">-<tspan class="h">1</tspan>5.2</text><path d="M763 0L583 0L583 1147Q518 1085 412 1023Q306 961 222 930L222 1104Q373 1175 486 1276Q599 1377 646 1472L763 1472Z" transform="translate(-40.87 0) scale(0.01025 -0.01025)" class="v"/></g>
<text transform="translate(579.01 1882.4) rotate(-90) scale(1 1.04)" font-size="21.0" class="v">4.2</text>
<g transform="translate(649.35 1993.25) rotate(-90)"><text transform="scale(1 1.04)" font-size="21.0" class="v" text-anchor="end">-<tspan class="h">1</tspan><tspan class="h">1</tspan>.9</text><path d="M763 0L583 0L583 1147Q518 1085 412 1023Q306 961 222 930L222 1104Q373 1175 486 1276Q599 1377 646 1472L763 1472Z" transform="translate(-40.87 0) scale(0.01025 -0.01025)" class="v"/><path d="M763 0L583 0L583 1147Q518 1085 412 1023Q306 961 222 930L222 1104Q373 1175 486 1276Q599 1377 646 1472L763 1472Z" transform="translate(-29.19 0) scale(0.01025 -0.01025)" class="v"/></g>
<text transform="translate(679.45 1888.76) rotate(-90) scale(1 1.04)" font-size="21.0" class="v">3.2</text>
<text transform="translate(749.79 1731.09) rotate(-90) scale(1 1.04)" font-size="21.0" class="v">28.0</text>
<g transform="translate(779.89 1832.17) rotate(-90)"><text transform="scale(1 1.04)" font-size="21.0" class="v"><tspan class="h">1</tspan>2.<tspan class="h">1</tspan></text><path d="M763 0L583 0L583 1147Q518 1085 412 1023Q306 961 222 930L222 1104Q373 1175 486 1276Q599 1377 646 1472L763 1472Z" transform="translate(0.00 0) scale(0.01025 -0.01025)" class="v"/><path d="M763 0L583 0L583 1147Q518 1085 412 1023Q306 961 222 930L222 1104Q373 1175 486 1276Q599 1377 646 1472L763 1472Z" transform="translate(29.19 0) scale(0.01025 -0.01025)" class="v"/></g>
<text transform="translate(850.23 2057.46) rotate(-90) scale(1 1.04)" font-size="21.0" class="v" text-anchor="end">-22.0</text>
<g transform="translate(880.33 1816.28) rotate(-90)"><text transform="scale(1 1.04)" font-size="21.0" class="v"><tspan class="h">1</tspan>4.6</text><path d="M763 0L583 0L583 1147Q518 1085 412 1023Q306 961 222 930L222 1104Q373 1175 486 1276Q599 1377 646 1472L763 1472Z" transform="translate(0.00 0) scale(0.01025 -0.01025)" class="v"/></g>
<rect x="154.4" y="1667.6" width="23.0" height="18.0" fill="#a98bdb"/>
<rect x="157.3" y="1671.4" width="16.8" height="10.4" fill="#2c1455"/>
<text transform="translate(190.1 1683.7)" font-size="24.0">ImageJ Pixel-Based</text>
<rect x="154.4" y="1696.8" width="23.0" height="18.0" fill="#1cc3f5"/>
<rect x="157.3" y="1700.6" width="16.8" height="10.4" fill="#1747e6"/>
<text transform="translate(190.1 1712.9)" font-size="24.0">StarDist Deep-Learning</text>
</svg>
</body></html>
